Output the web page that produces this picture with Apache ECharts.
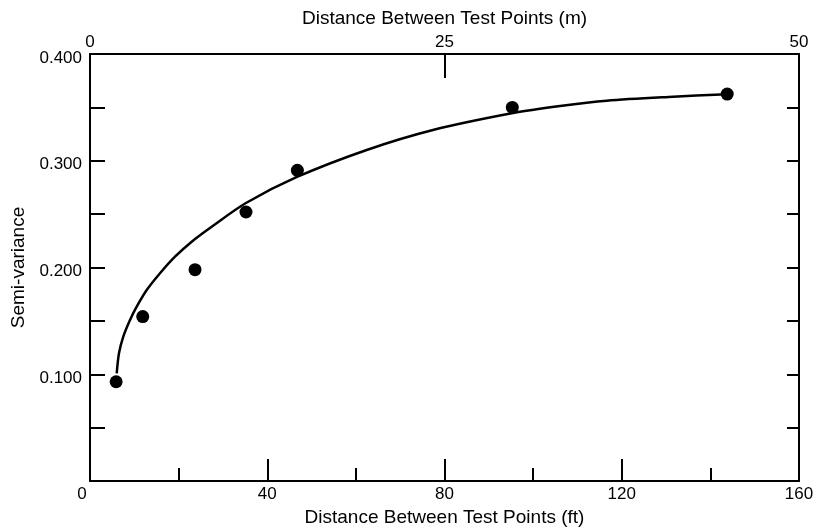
<!DOCTYPE html>
<html>
<head>
<meta charset="utf-8">
<script src="https://cdn.jsdelivr.net/npm/echarts@6/dist/echarts.min.js"></script>
<style>html,body{margin:0;padding:0;background:#fff;}#c{width:816px;height:529px;}</style>
</head>
<body>
<div id="c"></div>
<script>
// Observed semi-variance points (distance in ft, semi-variance)
var distFt = [5.9, 11.9, 23.7, 35.2, 46.8, 95.3, 143.8];
var semiVar = [0.093, 0.154, 0.198, 0.252, 0.291, 0.350, 0.3625];
// Fitted curve
var curveFt = [6.03, 6.54, 7.51, 9.03, 10.54, 12.8, 15.8, 19.18, 22.95, 27.46, 35.2, 46.71, 62.44, 77.4, 95.46, 106.07, 116.6, 131.57, 143.75];
var curveVar = [0.1009, 0.1196, 0.1352, 0.1508, 0.1633, 0.1789, 0.1946, 0.2101, 0.2242, 0.2382, 0.2604, 0.2848, 0.3101, 0.3288, 0.3447, 0.3513, 0.3563, 0.3600, 0.3623];
// Axis titles
var ftTitle = 'Distance Between Test Points (ft)';
var mTitle = 'Distance Between Test Points (m)';
var yTitle = 'Semi-variance';

var pts = distFt.map(function (x, i) { return [x, semiVar[i]]; });
var curve = curveFt.map(function (x, i) { return [x, curveVar[i]]; });

var font = 'Liberation Sans, Arial, Helvetica, sans-serif';
var lab = 17, ttl = 19;
var chart = echarts.init(document.getElementById('c'), null, {renderer: 'canvas'});
chart.setOption({
  animation: false,
  backgroundColor: '#fff',
  grid: {left: 90, right: 17, top: 54, bottom: 48, containLabel: false, outerBoundsMode: 'none'},
  xAxis: [{
    type: 'value', position: 'bottom', min: 0, max: 160, interval: 40,
    name: ftTitle, nameLocation: 'middle', nameGap: 24,
    nameTextStyle: {fontFamily: font, fontSize: ttl, color: '#000'},
    axisLine: {onZero: false, lineStyle: {color: '#000', width: 2}},
    axisTick: {inside: true, length: 22, lineStyle: {color: '#000', width: 2}},
    minorTick: {show: true, splitNumber: 2, length: 13, lineStyle: {color: '#000', width: 2}},
    splitLine: {show: false},
    axisLabel: {
      margin: 5, fontFamily: font, fontSize: lab, color: '#000',
      formatter: function (v) { return v === 0 ? '{z|0}' : String(v); },
      rich: {z: {fontFamily: font, fontSize: lab, color: '#000', padding: [0, 16, 0, 0]}}
    }
  }, {
    type: 'value', position: 'top', min: 0, max: 50, interval: 25,
    name: mTitle, nameLocation: 'middle', nameGap: 26,
    nameTextStyle: {fontFamily: font, fontSize: ttl, color: '#000'},
    axisLine: {onZero: false, lineStyle: {color: '#000', width: 2}},
    axisTick: {inside: true, length: 24, lineStyle: {color: '#000', width: 2}},
    splitLine: {show: false},
    axisLabel: {margin: 3, fontFamily: font, fontSize: lab, color: '#000'}
  }],
  yAxis: [{
    type: 'value', position: 'left', min: 0, max: 0.4, interval: 0.05,
    name: yTitle, nameLocation: 'middle', nameGap: 60, nameRotate: 90,
    nameTextStyle: {fontFamily: font, fontSize: ttl, color: '#000'},
    axisLine: {show: true, onZero: false, lineStyle: {color: '#000', width: 2}},
    axisTick: {show: true, inside: true, length: 15, lineStyle: {color: '#000', width: 2}},
    splitLine: {show: false},
    axisLabel: {
      margin: 8, fontFamily: font, fontSize: lab, color: '#000',
      formatter: function (v) {
        var k = Math.round(v * 100);
        if (k === 0 || k % 10 !== 0) return '';
        return '{a|' + v.toFixed(3) + '}';
      },
      rich: {a: {fontFamily: font, fontSize: lab, color: '#000', padding: [8, 0, 0, 0]}}
    }
  }, {
    type: 'value', position: 'right', min: 0, max: 0.4, interval: 0.05,
    axisLine: {show: true, onZero: false, lineStyle: {color: '#000', width: 2}},
    axisTick: {show: true, inside: true, length: 12, lineStyle: {color: '#000', width: 2}},
    splitLine: {show: false},
    axisLabel: {show: false}
  }],
  series: [{
    type: 'line', xAxisIndex: 0, yAxisIndex: 0, data: curve, smooth: 0.3,
    symbol: 'none', lineStyle: {color: '#000', width: 2.5}, z: 2
  }, {
    type: 'scatter', xAxisIndex: 0, yAxisIndex: 0, data: pts,
    symbol: 'circle', symbolSize: 13, itemStyle: {color: '#000', opacity: 1}, z: 3
  }]
});
</script>
</body>
</html>
